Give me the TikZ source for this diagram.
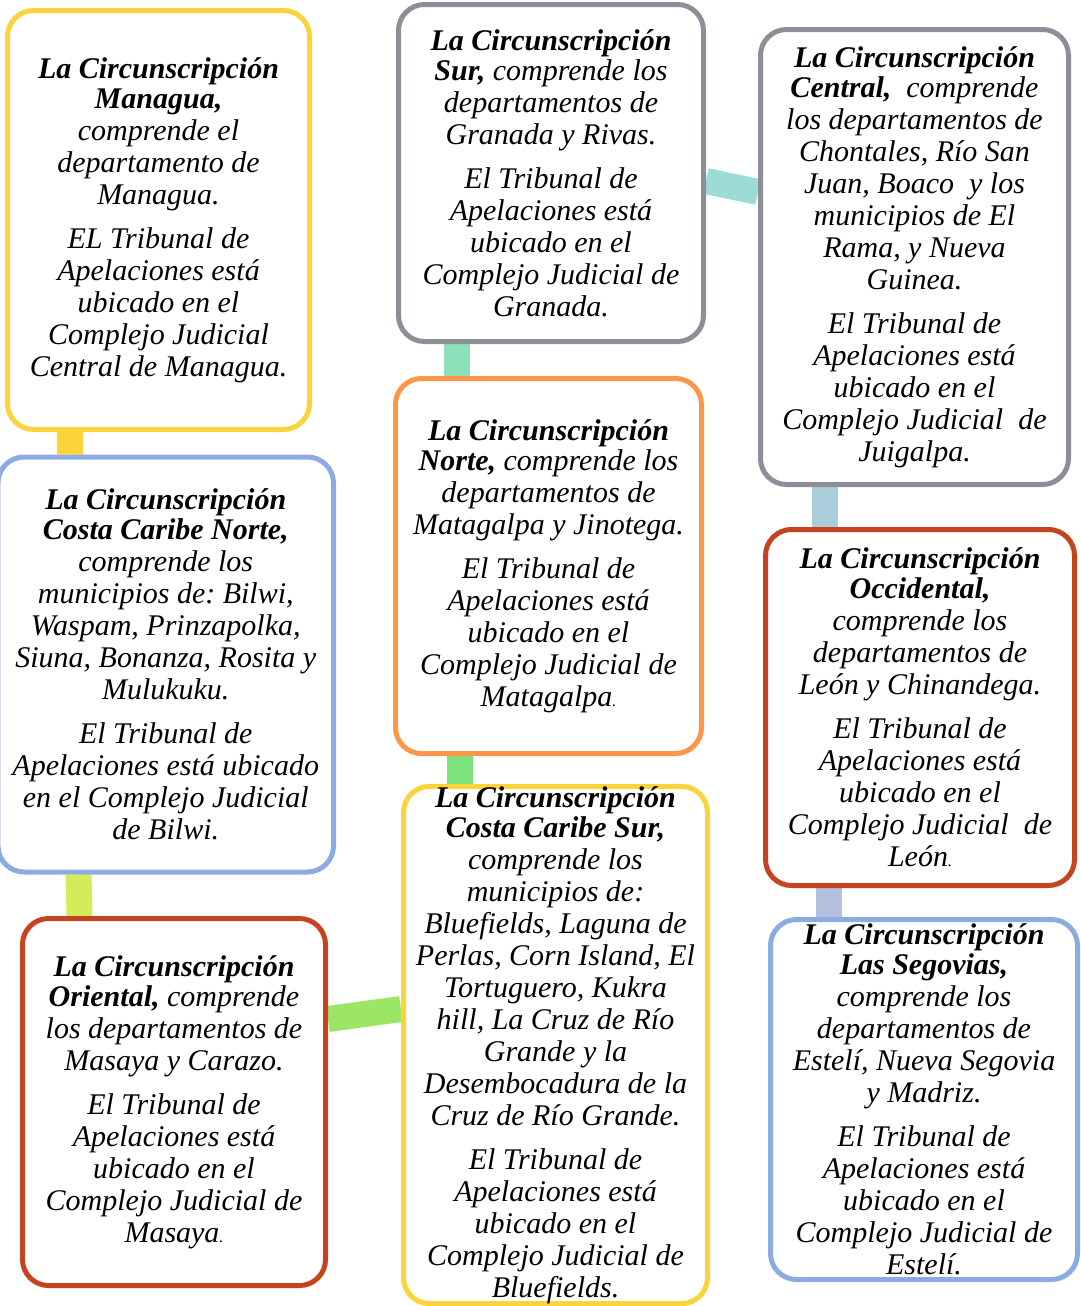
\documentclass[tikz,border=0pt]{standalone}
\usepackage{fontspec}
\setmainfont{Liberation Serif}
\usetikzlibrary{backgrounds}
\frenchspacing
\definecolor{amarillo}{RGB}{250,212,58}
\definecolor{gris}{RGB}{138,143,152}
\definecolor{azul}{RGB}{140,172,225}
\definecolor{naranja}{RGB}{252,150,72}
\definecolor{rojo}{RGB}{197,67,30}
\definecolor{menta}{RGB}{140,225,185}
\definecolor{turquesa}{RGB}{156,220,212}
\definecolor{celeste}{RGB}{170,207,218}
\definecolor{verde}{RGB}{125,225,125}
\definecolor{lima}{RGB}{212,236,90}
\definecolor{pasto}{RGB}{155,230,100}
\definecolor{lavanda}{RGB}{180,193,222}

\begin{document}
\begin{tikzpicture}[x=0.5pt, y=-0.5pt]
\tikzstyle{zona}=[draw, rectangle, rounded corners=13pt, line width=2.5pt, fill=white, text=black, align=center, inner sep=0pt, font=\itshape\fontsize{15}{16}\selectfont]
\tikzstyle{enlace}=[line width=13pt]
\useasboundingbox (0,0) rectangle (1081,1306);

\node[zona, draw=amarillo, minimum width=151pt, minimum height=209.5pt] (mgua) at (158.5,220) {%
\textbf{La Circunscripción}\\[-1pt]
\textbf{Managua,}\\
comprende el\\
departamento de\\
Managua.\\[6pt]
EL Tribunal de\\
Apelaciones está\\
ubicado en el\\
Complejo Judicial\\
Central de Managua.};
\node[zona, draw=gris, minimum width=152.5pt, minimum height=168.5pt] (sur) at (551,173) {%
\textbf{La Circunscripción}\\[-1pt]
\textbf{Sur,} comprende los\\
departamentos de\\
Granada y Rivas.\\[6pt]
El Tribunal de\\
Apelaciones está\\
ubicado en el\\
Complejo Judicial de\\
Granada.};
\node[zona, draw=gris, minimum width=154pt, minimum height=227.5pt] (centro) at (914.5,257) {%
\textbf{La Circunscripción}\\[-1pt]
\textbf{Central,}\ \ comprende\\
los departamentos de\\
Chontales, Río San\\
Juan, Boaco\ \ y los\\
municipios de El\\
Rama, y Nueva\\
Guinea.\\[6pt]
El Tribunal de\\
Apelaciones está\\
ubicado en el\\
Complejo Judicial\ \ de\\
Juigalpa.};
\node[zona, draw=azul, minimum width=167.75pt, minimum height=207.5pt] (ccn) at (165.75,664.5) {%
\textbf{La Circunscripción}\\[-1pt]
\textbf{Costa Caribe Norte,}\\
comprende los\\
municipios de: Bilwi,\\
Waspam, Prinzapolka,\\
Siuna, Bonanza, Rosita y\\
Mulukuku.\\[6pt]
El Tribunal de\\
Apelaciones está ubicado\\
en el Complejo Judicial\\
de Bilwi.};
\node[zona, draw=naranja, minimum width=153pt, minimum height=187.5pt] (norte) at (548.5,566) {%
\textbf{La Circunscripción}\\[-1pt]
\textbf{Norte,} comprende los\\
departamentos de\\
Matagalpa y Jinotega.\\[6pt]
El Tribunal de\\
Apelaciones está\\
ubicado en el\\
Complejo Judicial de\\
Matagalpa{\fontsize{8}{8}\selectfont.}};
\node[zona, draw=rojo, minimum width=154.5pt, minimum height=178pt] (occ) at (920,707.5) {%
\textbf{La Circunscripción}\\[-1pt]
\textbf{Occidental,}\\
comprende los\\
departamentos de\\
León y Chinandega.\\[6pt]
El Tribunal de\\
Apelaciones está\\
ubicado en el\\
Complejo Judicial\ \ de\\
León{\fontsize{8}{8}\selectfont.}};
\node[zona, draw=rojo, minimum width=151.5pt, minimum height=183.5pt] (orie) at (174,1102) {%
\textbf{La Circunscripción}\\[-1pt]
\textbf{Oriental,} comprende\\
los departamentos de\\
Masaya y Carazo.\\[6pt]
El Tribunal de\\
Apelaciones está\\
ubicado en el\\
Complejo Judicial de\\
Masaya{\fontsize{8}{8}\selectfont.}};
\node[zona, draw=amarillo, minimum width=152pt, minimum height=256.5pt] (ccs) at (555.5,1045) {%
\textbf{La Circunscripción}\\[-1pt]
\textbf{Costa Caribe Sur,}\\
comprende los\\
municipios de:\\
Bluefields, Laguna de\\
Perlas, Corn Island, El\\
Tortuguero, Kukra\\
hill, La Cruz de Río\\
Grande y la\\
Desembocadura de la\\
Cruz de Río Grande.\\[6pt]
El Tribunal de\\
Apelaciones está\\
ubicado en el\\
Complejo Judicial de\\
Bluefields.};
\node[zona, draw=azul, minimum width=153.5pt, minimum height=180pt] (segov) at (924,1099.5) {%
\textbf{La Circunscripción}\\[-1pt]
\textbf{Las Segovias,}\\
comprende los\\
departamentos de\\
Estelí, Nueva Segovia\\
y Madriz.\\[6pt]
El Tribunal de\\
Apelaciones está\\
ubicado en el\\
Complejo Judicial de\\
Estelí.};

% barras de union, detras de los recuadros
\begin{scope}[on background layer]
\draw[enlace, amarillo] ([xshift=-44.25pt]mgua.south) -- ([xshift=-47.9pt]ccn.north);
\draw[enlace, menta] ([xshift=-47pt]sur.south) -- ([xshift=-45.75pt]norte.north);
\draw[enlace, turquesa] ([yshift=-4pt]sur.east) -- ([yshift=32.5pt]centro.west);
\draw[enlace, celeste] ([xshift=-44.75pt]centro.south) -- ([xshift=-47.5pt]occ.north);
\draw[enlace, verde] ([xshift=-44.25pt]norte.south) -- ([xshift=-47.75pt]ccs.north);
\draw[enlace, lima] ([xshift=-43.6pt]ccn.south) -- ([xshift=-47.25pt]orie.north);
\draw[enlace, pasto] ([yshift=41.5pt]orie.east) -- ([yshift=18pt]ccs.west);
\draw[enlace, lavanda] ([xshift=-45.5pt]occ.south) -- ([xshift=-47.5pt]segov.north);
\end{scope}
\end{tikzpicture}
\end{document}
